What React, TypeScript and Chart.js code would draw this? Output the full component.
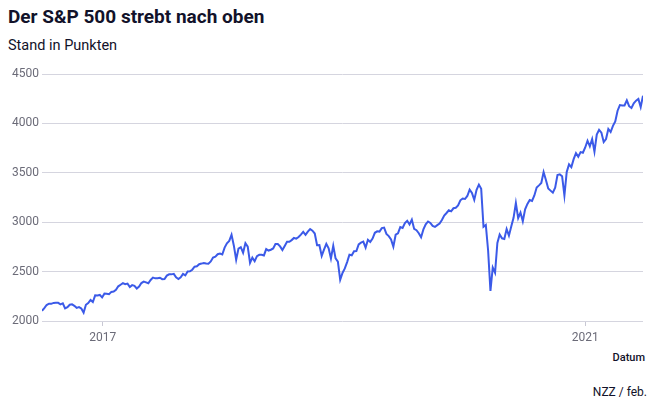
import React, { useEffect, useRef } from "react";
import { Chart, registerables } from "chart.js";

Chart.register(...registerables);

const title = "Der S&P 500 strebt nach oben";
const subtitle = "Stand in Punkten";
const axisTitle = "Datum";
const source = "NZZ / feb.";

// Weekly closes (Fridays), first week ending 2016-07-01
const firstWeek = "2016-07-01";

const closes2016: number[] = [
  2102.95, 2129.9, 2161.74, 2175.03, 2173.6, 2182.87, 2184.05, 2183.87, 2169.04,
  2179.98, 2127.81, 2139.16, 2164.69, 2168.27, 2153.74, 2132.98, 2141.16, 2126.41,
  2085.18, 2164.45, 2181.9, 2213.35, 2191.95, 2259.53, 2258.07, 2263.79, 2238.83,
];
const closes2017: number[] = [
  2276.98, 2274.64, 2271.31, 2294.69, 2297.42, 2316.1, 2351.16, 2367.34, 2383.12,
  2372.6, 2378.25, 2343.98, 2362.72, 2355.54, 2328.95, 2348.69, 2384.2, 2399.29,
  2390.9, 2381.73, 2415.82, 2439.07, 2431.77, 2433.15, 2438.3, 2423.41, 2425.18,
  2459.27, 2472.54, 2472.1, 2476.83, 2441.32, 2425.55, 2443.05, 2476.55, 2461.43,
  2500.23, 2502.22, 2519.36, 2549.33, 2553.17, 2575.21, 2581.07, 2587.84, 2582.3,
  2578.85, 2602.42, 2642.22, 2651.5, 2675.81, 2683.34, 2673.61,
];
const closes2018: number[] = [
  2743.15, 2786.24, 2810.3, 2872.87, 2762.13, 2619.55, 2732.22, 2747.3, 2691.25,
  2786.57, 2752.01, 2588.26, 2640.87, 2604.47, 2656.3, 2670.14, 2669.91, 2663.42,
  2727.72, 2712.97, 2721.33, 2734.62, 2779.03, 2779.42, 2754.88, 2718.37, 2759.82,
  2801.31, 2801.83, 2818.82, 2840.35, 2833.28, 2850.13, 2874.69, 2901.52, 2871.68,
  2904.98, 2929.67, 2913.98, 2885.57, 2767.13, 2767.78, 2658.69, 2723.06, 2781.01,
  2736.27, 2632.56, 2760.17, 2633.08, 2599.95, 2416.62, 2485.74,
];
const closes2019: number[] = [
  2531.94, 2596.26, 2670.71, 2664.76, 2706.53, 2707.88, 2775.6, 2792.67, 2803.69,
  2743.07, 2822.48, 2800.71, 2834.4, 2892.74, 2907.41, 2905.03, 2939.88, 2945.64,
  2881.4, 2859.53, 2826.06, 2752.06, 2873.34, 2886.98, 2950.46, 2941.76, 2990.41,
  3013.77, 2976.61, 3025.86, 2932.05, 2918.65, 2888.68, 2847.11, 2926.46, 2978.71,
  3007.39, 2992.07, 2961.79, 2952.01, 2970.27, 2986.2, 3022.55, 3066.91, 3093.08,
  3120.46, 3110.29, 3140.98, 3145.91, 3168.8, 3221.22, 3240.02,
];
const closes2020: number[] = [
  3234.85, 3265.35, 3329.62, 3295.47, 3225.52, 3327.71, 3380.16, 3337.75, 2954.22,
  2972.37, 2711.02, 2304.92, 2541.47, 2488.65, 2789.82, 2874.56, 2836.74, 2830.71,
  2929.8, 2863.7, 2955.45, 3044.31, 3193.93, 3041.31, 3097.74, 3009.05, 3130.01,
  3185.04, 3224.73, 3215.63, 3271.12, 3351.28, 3372.85, 3397.16, 3508.01, 3426.96,
  3340.97, 3319.47, 3298.46, 3348.44, 3477.13, 3483.81, 3465.39, 3269.96, 3509.44,
  3585.15, 3557.54, 3638.35, 3699.12, 3663.46, 3709.41, 3703.06, 3756.07,
];
const closes2021: number[] = [
  3824.68, 3768.25, 3841.47, 3714.24, 3886.83, 3934.83, 3906.71, 3811.15, 3841.94,
  3943.34, 3913.1, 3974.54, 4019.87, 4128.8, 4185.47, 4180.17, 4181.17, 4232.6,
  4173.85, 4155.86, 4204.11, 4229.89, 4247.44, 4166.45, 4280.7,
];

const xTickDates = ["2017-01-01", "2021-01-01"];
const xTickLabels = ["2017", "2021"];
const yTicks = [2000, 2500, 3000, 3500, 4000, 4500];

const DAY = 86400000;

export default function App() {
  const ref = useRef<HTMLCanvasElement | null>(null);

  useEffect(() => {
    if (!ref.current) return;
    const values = [
      ...closes2016,
      ...closes2017,
      ...closes2018,
      ...closes2019,
      ...closes2020,
      ...closes2021,
    ];
    const start = Date.parse(firstWeek + "T00:00:00Z");
    const points = values.map((v, i) => ({ x: start + i * 7 * DAY, y: v }));
    const tickTs = xTickDates.map((d) => Date.parse(d + "T00:00:00Z"));
    const tickFont = { family: "Roboto, 'Noto Sans', sans-serif", size: 12 };

    const chart = new Chart(ref.current, {
      type: "line",
      data: {
        datasets: [
          {
            data: points,
            borderColor: "#3b5ae8",
            borderWidth: 2,
            pointRadius: 0,
            tension: 0,
            fill: false,
          },
        ],
      },
      options: {
        animation: false,
        responsive: false,
        maintainAspectRatio: false,
        layout: { padding: { top: 14, right: 9, left: 0, bottom: 0 } },
        plugins: { legend: { display: false }, tooltip: { enabled: false } },
        scales: {
          x: {
            type: "linear",
            min: points[0].x,
            max: points[points.length - 1].x,
            afterBuildTicks: (scale: any) => {
              scale.ticks = tickTs.map((t) => ({ value: t }));
            },
            afterFit: (scale: any) => {
              scale.height = 29;
            },
            border: { display: false },
            grid: {
              drawOnChartArea: false,
              drawTicks: true,
              tickLength: 5,
              color: "#c8c8d4",
            },
            ticks: {
              autoSkip: false,
              maxRotation: 0,
              padding: 5,
              color: "#6b6b78",
              font: tickFont,
              callback: (v: any) => {
                const idx = tickTs.indexOf(Number(v));
                return idx >= 0 ? xTickLabels[idx] : "";
              },
            },
          },
          y: {
            min: 2000,
            max: 4500,
            afterBuildTicks: (scale: any) => {
              scale.ticks = yTicks.map((t) => ({ value: t }));
            },
            afterFit: (scale: any) => {
              scale.width = 42;
            },
            border: { display: false },
            grid: { color: "#d5d5df", drawTicks: false, lineWidth: 1 },
            ticks: {
              padding: 3,
              color: "#6b6b78",
              font: tickFont,
              callback: (v: any) => String(v),
            },
          },
        },
      },
    });
    return () => chart.destroy();
  }, []);

  const font = "Roboto, 'Noto Sans', sans-serif";
  return (
    <div
      style={{
        position: "fixed",
        left: 0,
        top: 0,
        width: 652,
        height: 402,
        background: "#fff",
        fontFamily: font,
      }}
    >
      <div
        style={{
          position: "absolute",
          left: 8,
          top: 5,
          fontSize: 19,
          fontWeight: 700,
          color: "#12122a",
          whiteSpace: "nowrap",
        }}
      >
        {title}
      </div>
      <div
        style={{
          position: "absolute",
          left: 8,
          top: 37,
          fontSize: 14.5,
          color: "#12122a",
          whiteSpace: "nowrap",
        }}
      >
        {subtitle}
      </div>
      <canvas
        ref={ref}
        width={652}
        height={290}
        style={{ position: "absolute", left: 0, top: 60, width: 652, height: 290 }}
      />
      <div
        style={{
          position: "absolute",
          right: 7,
          top: 351,
          fontSize: 11,
          fontWeight: 500,
          color: "#12122a",
          whiteSpace: "nowrap",
        }}
      >
        {axisTitle}
      </div>
      <div
        style={{
          position: "absolute",
          right: 5,
          top: 385,
          fontSize: 12,
          color: "#12122a",
          whiteSpace: "nowrap",
        }}
      >
        {source}
      </div>
    </div>
  );
}
